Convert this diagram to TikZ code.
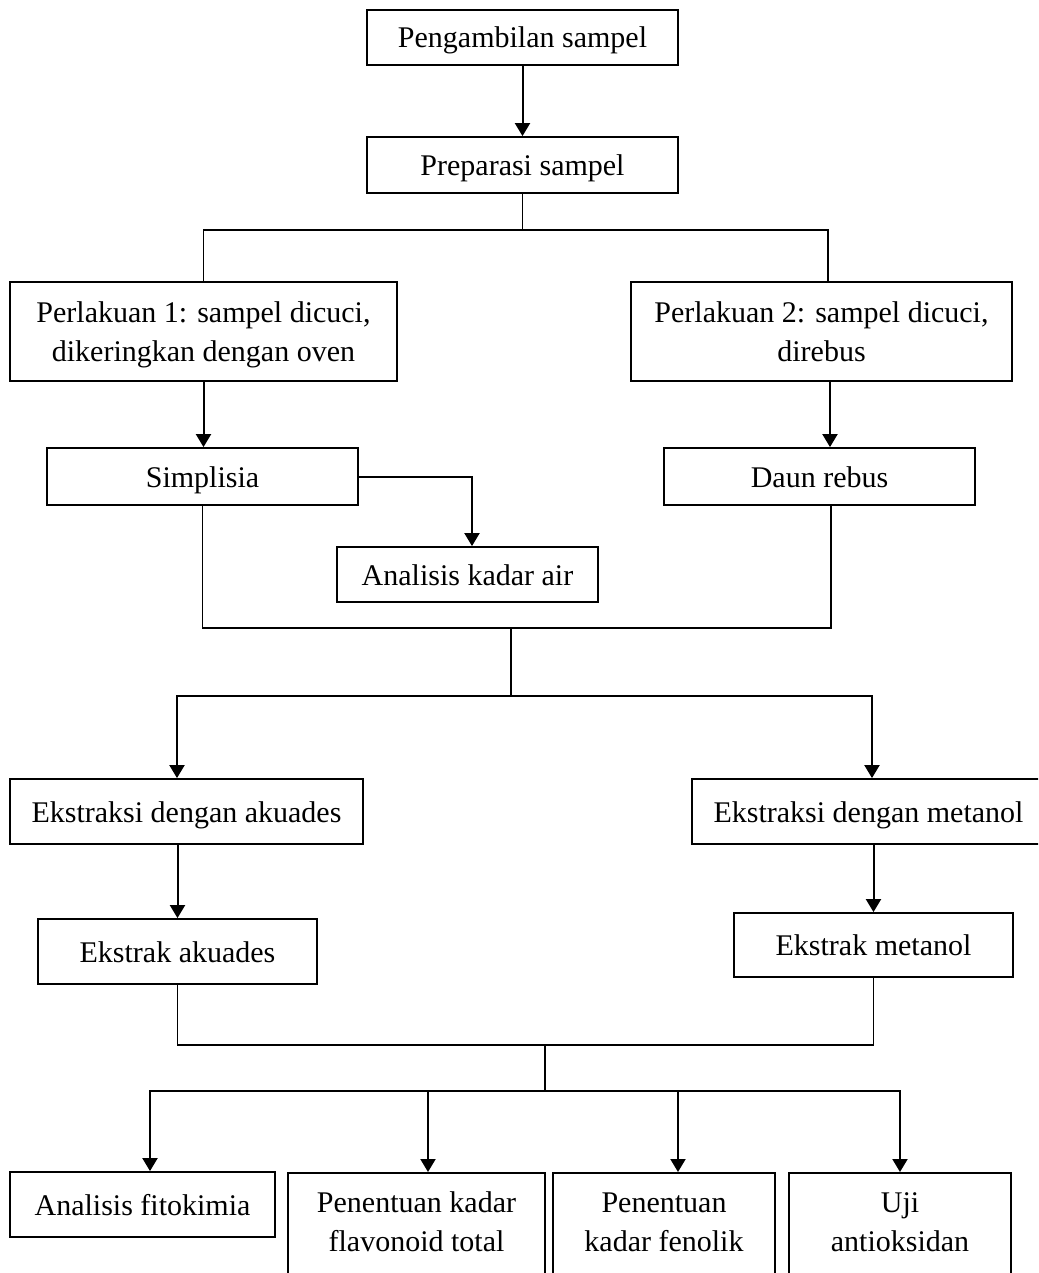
\documentclass[tikz,border=0pt]{standalone}
\usepackage{fontspec}
\setmainfont{Liberation Serif}
\usetikzlibrary{arrows.meta}

\tikzset{
  box/.style={draw, line width=0.9pt, inner sep=0pt, align=center, font=\fontsize{15}{19.5}\selectfont, text height=12.5pt, text depth=2pt},
  twobox/.style={box, text height=31.5pt},
  openbox/.style={box, anchor=north, text height=39.5pt, text depth=19.5pt},
  arr/.style={line width=1pt, -{Triangle[length=6.5pt,width=7.5pt]}},
  ln/.style={line width=0.65pt},
}

\begin{document}
\begin{tikzpicture}[x=0.5pt,y=-0.5pt]
                    \useasboundingbox (0,0) rectangle (1038,1273);
                    \clip (0,0) rectangle (1038,1273);
                    \node[box, minimum width=155.5pt, minimum height=27.5pt] (ambil) at (522.5,37.5) {Pengambilan sampel};
                    \node[box, minimum width=155.5pt, minimum height=28pt] (prep) at (522.5,165) {Preparasi sampel};
                    \node[twobox, minimum width=193.5pt, minimum height=49.5pt] (p1) at (203.5,331.5) {Perlakuan 1: sampel dicuci,\\dikeringkan dengan oven};
                    \node[twobox, minimum width=190.5pt, minimum height=49.5pt] (p2) at (821.5,331.5) {Perlakuan 2: sampel dicuci,\\direbus};
                    \node[box, minimum width=155.5pt, minimum height=28.5pt] (simp) at (202.5,476.5) {Simplisia};
                    \node[box, minimum width=155.5pt, minimum height=28.5pt] (daun) at (819.5,476.5) {Daun rebus};
                    \node[box, minimum width=130.5pt, minimum height=27.5pt] (air) at (467.5,574.5) {Analisis kadar air};
                    \node[box, minimum width=176.5pt, minimum height=32.5pt] (ekA) at (186.5,811.5) {Ekstraksi dengan akuades};
                    \node[box, minimum width=176.5pt, minimum height=32.5pt] (ekM) at (868.5,811.5) {Ekstraksi dengan metanol};
                    \node[box, minimum width=139.5pt, minimum height=32.5pt] (exA) at (177.5,951.5) {Ekstrak akuades};
                    \node[box, minimum width=139.5pt, minimum height=32pt] (exM) at (873.5,945) {Ekstrak metanol};
                    \node[box, minimum width=132.5pt, minimum height=32.5pt] (fito) at (142.5,1204.5) {Analisis fitokimia};
                    \node[openbox, minimum width=128.5pt] (flav) at (416.5,1172) {Penentuan kadar\\flavonoid total};
                    \node[openbox, minimum width=111pt] (fenol) at (664,1172) {Penentuan\\kadar fenolik};
                    \node[openbox, minimum width=111pt] (anti) at (900,1172) {Uji\\antioksidan};
                    \coordinate (t1) at (522.5,230);
                    \coordinate (t2) at (511,628);
                    \coordinate (t3) at (511,696);
                    \coordinate (t4) at (545,1045);
                    \coordinate (t5) at (545,1091);
                    \draw[arr] (ambil) -- (prep);
                    \draw[ln] (prep) -- (t1);
                    \draw[ln] (p1.north) |- (t1) -| ([xshift=3.25pt]p2.north);
                    \draw[arr] (p1.south) -- (p1.south |- simp.north);
                    \draw[arr] ([xshift=4.25pt]p2.south) -- ([xshift=4.25pt]p2.south |- daun.north);
                    \draw[arr] (simp.east) -| ([xshift=2.25pt]air.north);
                    \draw[ln] (simp.south) |- (t2) -| ([xshift=5.75pt]daun.south);
                    \draw[ln] (t2) -- (t3);
                    \draw[arr] (t3) -| ([xshift=-4.75pt]ekA.north);
                    \draw[arr] (t3) -| ([xshift=1.75pt]ekM.north);
                    \draw[arr] (ekA.south -| exA.north) -- (exA.north);
                    \draw[arr] (ekM.south -| exM.north) -- (exM.north);
                    \draw[ln] (exA.south) |- (t4) -| (exM.south);
                    \draw[ln] (t4) -- (t5);
                    \foreach \n/\s in {fito/3.75pt, flav/5.75pt, fenol/7pt, anti/0pt}
                        \draw[arr] (t5) -| ([xshift=\s]\n.north);
\end{tikzpicture}
\end{document}
